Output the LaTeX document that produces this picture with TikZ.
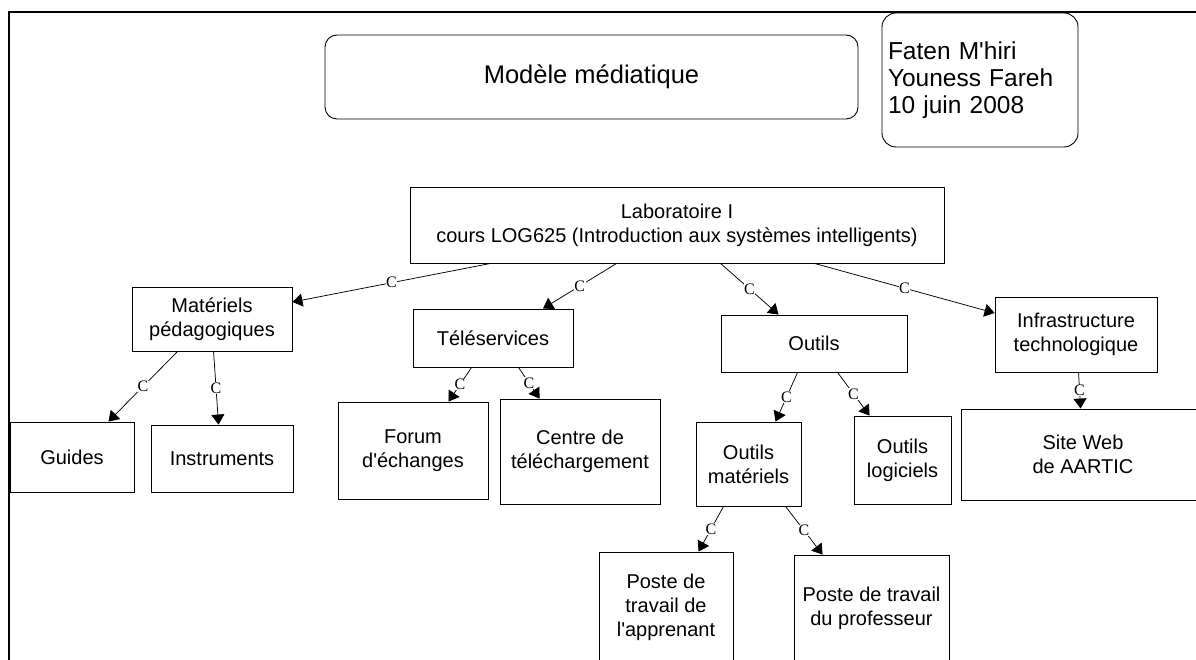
\documentclass[tikz,border=0pt]{standalone}
\usepackage{fontspec}
\setmainfont{Liberation Sans}
\newfontfamily\cfont{Liberation Serif}
\usetikzlibrary{arrows.meta}
\newcommand\apos{\textquotesingle}
\newcommand\bodyfont{\fontsize{20}{24}\selectfont}
\tikzset{
  box/.style={draw, line width=0.9pt, inner sep=0pt, align=center, font=\bodyfont},
  rbox/.style={box, rounded corners=12pt},
  link/.style={line width=0.75pt, -{Triangle[length=10pt,width=13pt]}},
  clab/.style={midway, fill=white, inner sep=0.6pt, font=\cfont\fontsize{16}{16}\selectfont}
}
\begin{document}
\begin{tikzpicture}[x=1pt, y=-1pt]
\useasboundingbox (0,0) rectangle (1196,660);
\clip (0,0) rectangle (1196,660);
\fill[white] (0,0) rectangle (1196,660);

% header boxes
\node[rbox, minimum width=533pt, minimum height=84pt, font=\fontsize{25.5}{30}\selectfont] (title) at (591.5,77) {Modèle médiatique};
\node[rbox, rounded corners=14pt, minimum width=196pt, minimum height=134pt, text width=184pt, align=left, font=\fontsize{24.5}{27}\selectfont] (author) at (980,80) {Faten M\apos hiri\\Youness Fareh\\10 juin 2008};

% tree boxes
\node[box, minimum width=534pt, minimum height=76pt] (lab) at (677,225) {Laboratoire I\\cours LOG625 (Introduction aux systèmes intelligents)};
\node[box, minimum width=160pt, minimum height=64pt] (mat) at (212,319) {Matériels\\pédagogiques};
\node[box, minimum width=160pt, minimum height=58pt] (tele) at (493,338) {Téléservices};
\node[box, minimum width=186pt, minimum height=57pt] (outils) at (814,343.5) {Outils};
\node[box, minimum width=162pt, minimum height=75pt] (infra) at (1076,334.5) {Infrastructure\\technologique};
\node[box, minimum width=124pt, minimum height=70pt] (guides) at (72,457) {Guides};
\node[box, minimum width=142pt, minimum height=67pt] (instr) at (222,458.5) {Instruments};
\node[box, minimum width=150pt, minimum height=97pt] (forum) at (413,450.5) {Forum\\d\apos échanges};
\node[box, minimum width=160pt, minimum height=105pt] (centre) at (580,451.5) {Centre de\\téléchargement};
\node[box, minimum width=105pt, minimum height=84pt] (om) at (748.5,464) {Outils\\matériels};
\node[box, minimum width=97pt, minimum height=88pt] (ol) at (902.5,460) {Outils\\logiciels};
\node[box, minimum width=244pt, minimum height=91pt] (site) at (1083,454.5) {Site Web\\de AARTIC};
\node[box, minimum width=134pt, minimum height=110pt] (appr) at (666,607) {Poste de\\travail de\\l\apos apprenant};
\node[box, minimum width=155pt, minimum height=106pt] (prof) at (871.5,608) {Poste de travail\\du professeur};

% connectors
\draw[link] ([xshift=81pt]lab.south west) -- node[clab]{C} ([yshift=17pt]mat.east);
\draw[link] ([xshift=207pt]lab.south west) -- node[clab]{C} ([xshift=50pt]tele.north);
\draw[link] ([xshift=311pt]lab.south west) -- node[clab]{C} ([xshift=58pt]outils.north west);
\draw[link] ([xshift=405pt]lab.south west) -- node[clab]{C} ([yshift=21.5pt]infra.west);
\draw[link] ([xshift=46pt]mat.south west) -- node[clab]{C} ([xshift=-26pt]guides.north east);
\draw[link] ([xshift=82pt]mat.south west) -- node[clab]{C} ([xshift=68pt]instr.north west);
\draw[link] ([xshift=59pt]tele.south west) -- node[clab]{C} ([xshift=111pt]forum.north west);
\draw[link] ([xshift=106pt]tele.south west) -- node[clab]{C} ([xshift=40pt]centre.north west);
\draw[link] ([xshift=77pt]outils.south west) -- node[clab]{C} ([xshift=80pt]om.north west);
\draw[link] ([xshift=117pt]outils.south west) -- node[clab]{C} ([xshift=16pt]ol.north west);
\draw[link] ([xshift=84pt]infra.south west) -- node[clab]{C} ([xshift=120pt]site.north west);
\draw[link] ([xshift=28pt]om.south west) -- node[clab]{C} ([xshift=100pt]appr.north west);
\draw[link] ([xshift=90pt]om.south west) -- node[clab]{C} ([xshift=29pt]prof.north west);

% page border
\draw[line width=2.5pt] (9,662) -- (9,12) -- (1200,12);
\end{tikzpicture}
\end{document}
